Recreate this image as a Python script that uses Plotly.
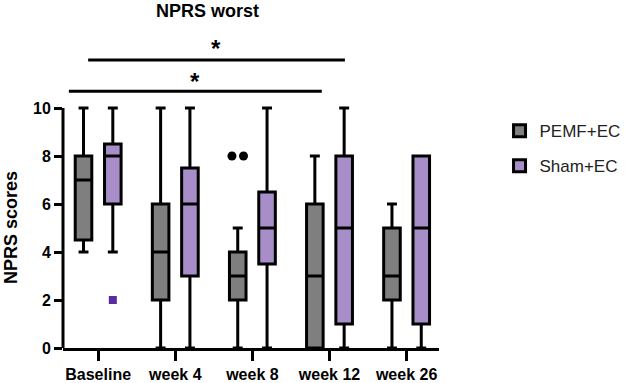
import plotly.graph_objects as go

categories = ["Baseline", "week 4", "week 8", "week 12", "week 26"]

# PEMF+EC box statistics
pemf_min = [4, 0, 0, 0, 0]
pemf_q1 = [4.5, 2, 2, 0, 2]
pemf_med = [7, 4, 3, 3, 3]
pemf_q3 = [8, 6, 4, 6, 5]
pemf_max = [10, 10, 5, 8, 6]

# Sham+EC box statistics
sham_min = [4, 0, 0, 0, 0]
sham_q1 = [6, 3, 3.5, 1, 1]
sham_med = [8, 6, 5, 5, 5]
sham_q3 = [8.5, 7.5, 6.5, 8, 8]
sham_max = [10, 10, 10, 10, 8]

# outliers: (category index, value)
pemf_out_cat = [2, 2]
pemf_out_val = [8, 8]
sham_out_cat = [0]
sham_out_val = [2]

GRAY = "#7f7f7f"
PURPLE = "#a88ec8"
FONT = "Liberation Sans, Arial, sans-serif"

off = 0.19
bw = 0.215
idx = list(range(len(categories)))

fig = go.Figure()
fig.add_trace(go.Box(
    name="PEMF+EC", x=[i - off for i in idx],
    q1=pemf_q1, median=pemf_med, q3=pemf_q3,
    lowerfence=pemf_min, upperfence=pemf_max,
    width=bw, whiskerwidth=0.6, fillcolor=GRAY,
    line=dict(color="black", width=3), boxpoints=False,
    legendgroup="a"))
fig.add_trace(go.Box(
    name="Sham+EC", x=[i + off for i in idx],
    q1=sham_q1, median=sham_med, q3=sham_q3,
    lowerfence=sham_min, upperfence=sham_max,
    width=bw, whiskerwidth=0.6, fillcolor=PURPLE,
    line=dict(color="black", width=3), boxpoints=False,
    legendgroup="b"))

jit = [-0.075, 0.075]
fig.add_trace(go.Scatter(
    x=[c - off + jit[k % 2] for k, c in enumerate(pemf_out_cat)], y=pemf_out_val,
    mode="markers", marker=dict(color="black", size=9, symbol="circle"),
    showlegend=False, cliponaxis=False))
fig.add_trace(go.Scatter(
    x=[c + off for c in sham_out_cat], y=sham_out_val,
    mode="markers", marker=dict(color="#5a2ca0", size=8, symbol="square"),
    showlegend=False, cliponaxis=False))

xr = [-0.456, 4.42]

shapes = [
    # y axis line only over 0..10
    dict(type="line", xref="paper", yref="y", x0=0, x1=0, y0=0, y1=10,
         line=dict(color="black", width=3)),
    # significance bars
    dict(type="line", xref="x", yref="y", x0=-0.38, x1=2.9, y0=10.7, y1=10.7,
         line=dict(color="black", width=3)),
    dict(type="line", xref="x", yref="y", x0=-0.13, x1=3.2, y0=12.0, y1=12.0,
         line=dict(color="black", width=3)),
]

annotations = [
    dict(text="<b>NPRS worst</b>", xref="paper", yref="paper", x=0.384, y=1.04,
         xanchor="center", yanchor="middle", showarrow=False,
         font=dict(family=FONT, size=18, color="black")),
    dict(text="<b>NPRS scores</b>", xref="paper", yref="y", x=-0.138, y=5,
         textangle=-90, xanchor="center", yanchor="middle", showarrow=False,
         font=dict(family=FONT, size=18, color="black")),
    dict(text="<b>*</b>", xref="x", yref="y", x=1.25, y=11.1,
         xanchor="center", yanchor="middle", showarrow=False,
         font=dict(family=FONT, size=24, color="black")),
    dict(text="<b>*</b>", xref="x", yref="y", x=1.53, y=12.5,
         xanchor="center", yanchor="middle", showarrow=False,
         font=dict(family=FONT, size=24, color="black")),
]

fig.update_layout(
    width=637, height=383,
    margin=dict(l=63, r=189, t=24, b=35),
    plot_bgcolor="white", paper_bgcolor="white",
    boxmode="overlay",
    shapes=shapes, annotations=annotations,
    font=dict(family=FONT, color="black"),
    legend=dict(x=1.161, y=0.725, xanchor="left", yanchor="top",
                font=dict(family=FONT, size=17, color="#222"),
                tracegroupgap=10, itemwidth=30, bgcolor="rgba(0,0,0,0)"),
    xaxis=dict(range=xr, tickvals=idx, ticktext=[f"<b>{c}</b>" for c in categories],
               showline=True, linecolor="black", linewidth=3, mirror=False,
               ticks="outside", ticklen=10, tickwidth=3, tickcolor="black",
               ticklabelstandoff=0, automargin=False,
               showgrid=False, zeroline=False,
               tickfont=dict(family=FONT, size=16, color="black")),
    yaxis=dict(range=[0, 13.5], tickvals=[0, 2, 4, 6, 8, 10],
               ticktext=[f"<b>{v}</b>" for v in [0, 2, 4, 6, 8, 10]],
               showline=False, ticks="outside", ticklen=8, tickwidth=3, tickcolor="black",
               automargin=False,
               showgrid=False, zeroline=False,
               tickfont=dict(family=FONT, size=16, color="black")),
)

fig.write_html("out.html")
